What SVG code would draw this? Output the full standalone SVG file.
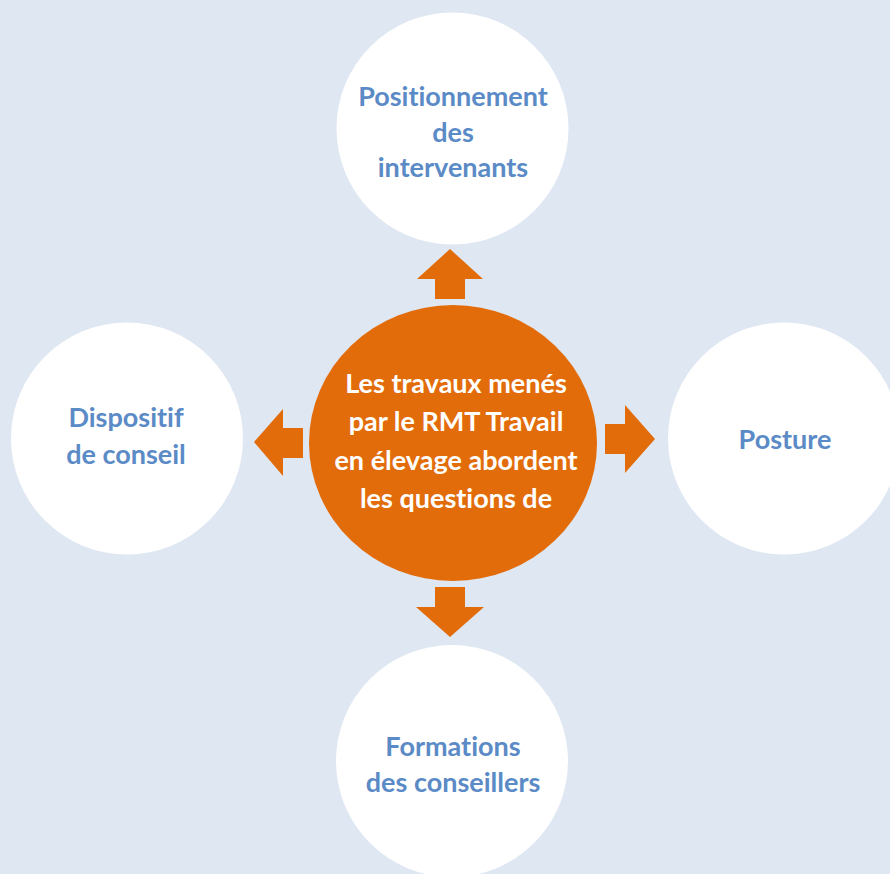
<svg xmlns="http://www.w3.org/2000/svg" width="890" height="874" viewBox="0 0 890 874">
  <style>
    .bubble { fill: #ffffff; }
    .hub { fill: #e36c0a; }
    .arrow { fill: #e36c0a; }
    .lbl, .hub-lbl { font-family: Lato, "Open Sans", "Liberation Sans", sans-serif; font-weight: 700; font-size: 27px; text-anchor: middle; font-variant-ligatures: none; }
    .lbl { fill: #5b8bc6; }
    .hub-lbl { fill: #ffffff; }
  </style>
  <rect width="890" height="874" fill="#dfe7f2"/>

  <g id="connectors">
    <polygon class="arrow" points="450,249 483,279 465,279 465,299 435,299 435,279 417,279"/>
    <polygon class="arrow" points="254,442 283,409 283,428 303,428 303,458 283,458 283,476"/>
    <polygon class="arrow" points="655,439 625,405 625,424 605,424 605,454 625,454 625,473"/>
    <polygon class="arrow" points="450,637 484,607 465,607 465,587 435,587 435,607 416,607"/>
  </g>

  <g id="node-hub">
    <ellipse class="hub" cx="453" cy="443" rx="144" ry="138"/>
    <text class="hub-lbl" x="456" y="393">Les travaux menés</text>
    <text class="hub-lbl" x="456" y="431">par le RMT Travail</text>
    <text class="hub-lbl" x="456" y="470">en élevage abordent</text>
    <text class="hub-lbl" x="456" y="508">les questions de</text>
  </g>

  <g id="node-positionnement">
    <circle class="bubble" cx="452.5" cy="128.5" r="116"/>
    <text class="lbl" x="453" y="106">Positionnement</text>
    <text class="lbl" x="453" y="142">des</text>
    <text class="lbl" x="453" y="177">intervenants</text>
  </g>

  <g id="node-dispositif">
    <circle class="bubble" cx="127" cy="438.5" r="116"/>
    <text class="lbl" x="126" y="427">Dispositif</text>
    <text class="lbl" x="126" y="464">de conseil</text>
  </g>

  <g id="node-posture">
    <circle class="bubble" cx="784" cy="438.5" r="116"/>
    <text class="lbl" x="785" y="449">Posture</text>
  </g>

  <g id="node-formations">
    <circle class="bubble" cx="452" cy="761" r="116"/>
    <text class="lbl" x="453" y="756">Formations</text>
    <text class="lbl" x="453" y="792">des conseillers</text>
  </g>
</svg>
